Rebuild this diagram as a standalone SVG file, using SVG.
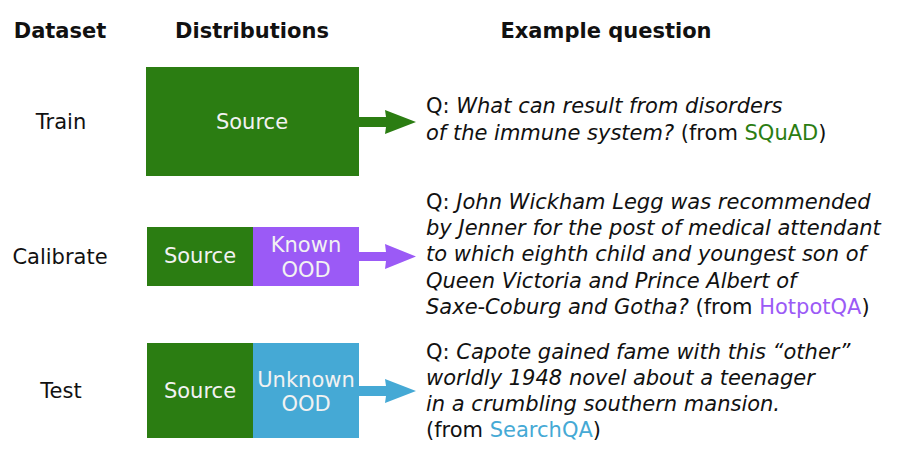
<svg xmlns="http://www.w3.org/2000/svg" width="917" height="460" viewBox="0 0 917 460">
<style>
text{font-family:"DejaVu Sans","Liberation Sans",sans-serif;font-size:21px;fill:#111}
.h{font-weight:bold;text-anchor:middle}
.lab{text-anchor:middle}
.bx{fill:#f2f2f2;text-anchor:middle}
.it{font-style:italic}
.g{fill:#2b7d12}.p{fill:#9b5af6}.b{fill:#45a9d5}
</style>
<rect width="917" height="460" fill="#fff"/>
<g id="headers">
<text class="h" x="60" y="38">Dataset</text>
<text class="h" x="252" y="38">Distributions</text>
<text class="h" x="606" y="38">Example question</text>
</g>
<g id="row-labels">
<text class="lab" x="61" y="129">Train</text>
<text class="lab" x="60" y="264">Calibrate</text>
<text class="lab" x="61" y="398">Test</text>
</g>
<g id="train-box">
<rect class="g" x="146" y="67" width="213" height="109"/>
<text class="bx" x="252" y="129">Source</text>
</g>
<g id="calibrate-box">
<rect class="g" x="147" y="227" width="106" height="59"/>
<rect class="p" x="253" y="227" width="106" height="59"/>
<text class="bx" x="200" y="263">Source</text>
<text class="bx" x="306" y="252">Known</text>
<text class="bx" x="306" y="277">OOD</text>
</g>
<g id="test-box">
<rect class="g" x="147" y="343" width="106" height="95"/>
<rect class="b" x="253" y="343" width="106" height="95"/>
<text class="bx" x="200" y="398">Source</text>
<text class="bx" x="306" y="387">Unknown</text>
<text class="bx" x="306" y="411">OOD</text>
</g>
<g id="connectors">
<polygon class="g" points="359,117 386,117 385,110 416,122 385,134 386,127 359,127"/>
<polygon class="p" points="359,252 386,252 385,244 416,256.5 385,269 386,261 359,261"/>
<polygon class="b" points="359,386 386,386 385,379 416,391 385,403 386,396 359,396"/>
</g>
<g id="q-train">
<text x="426" y="113">Q: <tspan class="it">What can result from disorders</tspan></text>
<text x="426" y="140"><tspan class="it">of the immune system?</tspan> (from <tspan class="g">SQuAD</tspan>)</text>
</g>
<g id="q-calibrate">
<text x="426" y="209">Q: <tspan class="it">John Wickham Legg was recommended</tspan></text>
<text x="426" y="235" class="it">by Jenner for the post of medical attendant</text>
<text x="426" y="261" class="it">to which eighth child and youngest son of</text>
<text x="426" y="288" class="it">Queen Victoria and Prince Albert of</text>
<text x="426" y="314"><tspan class="it">Saxe-Coburg and Gotha?</tspan> (from <tspan class="p">HotpotQA</tspan>)</text>
</g>
<g id="q-test">
<text x="426" y="359">Q: <tspan class="it">Capote gained fame with this “other”</tspan></text>
<text x="426" y="385" class="it">worldly 1948 novel about a teenager</text>
<text x="426" y="411" class="it">in a crumbling southern mansion.</text>
<text x="426" y="437">(from <tspan class="b">SearchQA</tspan>)</text>
</g>
</svg>
